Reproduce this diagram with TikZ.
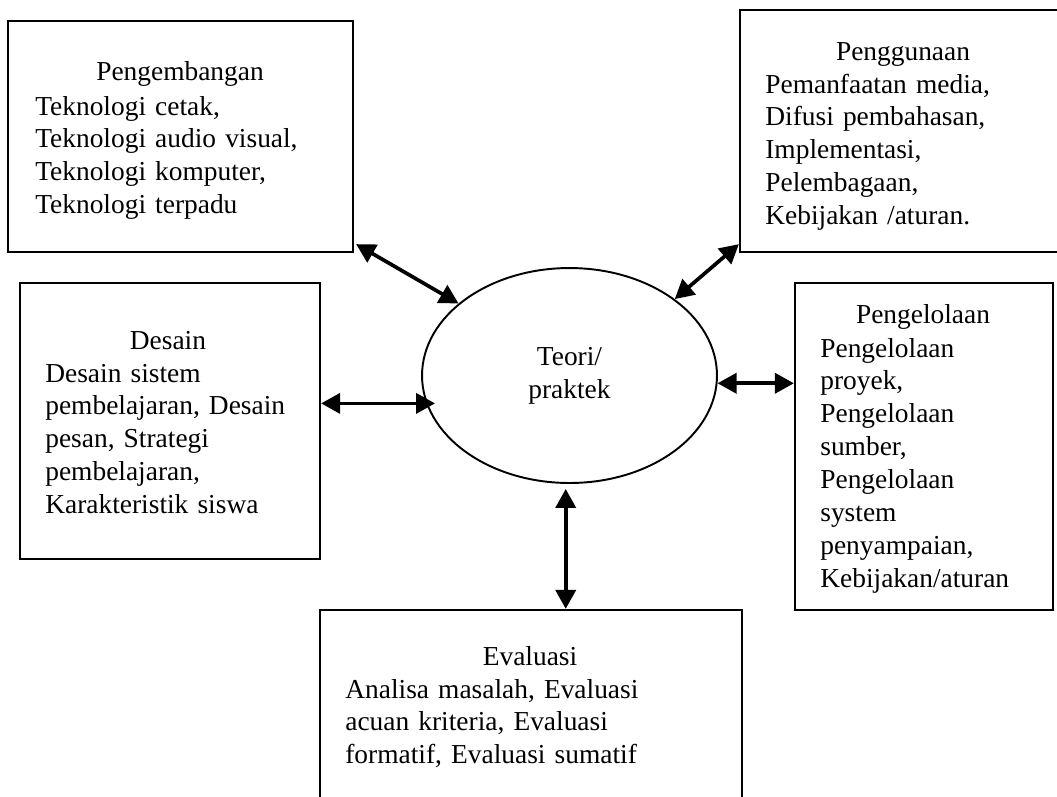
\documentclass[tikz,border=0pt]{standalone}
\usepackage{fontspec}
\setmainfont{Liberation Serif}
\usetikzlibrary{shapes.geometric,arrows.meta,calc}

\begin{document}
\begin{tikzpicture}[x=0.02cm, y=-0.02cm,
    kotak/.style={draw, line width=1.3pt, inner sep=0pt},
    judul/.style={anchor=base, inner sep=0pt, font=\fontsize{15.6pt}{18.7pt}\selectfont},
    isi/.style={anchor=base west, align=left, inner sep=0pt, font=\fontsize{15.6pt}{18.7pt}\selectfont},
    panah/.style={{Triangle[length=0.38cm,width=0.4cm]}-{Triangle[length=0.38cm,width=0.4cm]}, line width=2.1pt}]
    \useasboundingbox (0,0) rectangle (1057,796);

    % Teori/praktek in the middle
    \node[draw, ellipse, line width=1.1pt, minimum width=5.9cm, minimum height=4.3cm, inner sep=0pt,
          align=center, font=\fontsize{15.6pt}{18.7pt}\selectfont] (teori) at (569.5,375.5) {Teori/\\praktek};

    % Pengembangan box
    \node[kotak, minimum width=6.9cm, minimum height=4.62cm] (pengembangan) at (180.5,136.5) {};
    \node[judul] (pengembangan-judul) at (180,80) {Pengembangan};
    \node[isi, text width=6cm] (pengembangan-isi) at (35,115)
        {Teknologi cetak,\\Teknologi audio visual,\\Teknologi komputer,\\Teknologi terpadu};

    % Penggunaan box (cut at the right edge)
    \node[kotak, minimum width=6.6cm, minimum height=4.84cm] (penggunaan) at (905,131) {};
    \node[judul] (penggunaan-judul) at (903,60) {Penggunaan};
    \node[isi, text width=5.5cm] (penggunaan-isi) at (765,93)
        {Pemanfaatan media,\\Difusi pembahasan,\\Implementasi,\\Pelembagaan,\\Kebijakan /aturan.};

    % Desain box
    \node[kotak, minimum width=6cm, minimum height=5.52cm] (desain) at (170,421) {};
    \node[judul] (desain-judul) at (168,349) {Desain};
    \node[isi, text width=5.2cm] (desain-isi) at (45,382)
        {Desain sistem\\pembelajaran, Desain\\pesan, Strategi\\pembelajaran,\\Karakteristik siswa};

    % Pengelolaan box
    \node[kotak, minimum width=5.16cm, minimum height=6.54cm] (pengelolaan) at (924,446.5) {};
    \node[judul] (pengelolaan-judul) at (923,323) {Pengelolaan};
    \node[isi, text width=4.5cm] (pengelolaan-isi) at (820,357)
        {Pengelolaan\\proyek,\\Pengelolaan\\sumber,\\Pengelolaan\\system\\penyampaian,\\Kebijakan/aturan};

    % Evaluasi box (cut at the bottom edge)
    \node[kotak, minimum width=8.44cm, minimum height=4.2cm] (evaluasi) at (531,715) {};
    \node[judul] (evaluasi-judul) at (530,665) {Evaluasi};
    \node[isi, text width=7.5cm] (evaluasi-isi) at (345,698)
        {Analisa masalah, Evaluasi\\acuan kriteria, Evaluasi\\formatif, Evaluasi sumatif};

    % arrows to the middle
    \draw[panah] ($(pengembangan.south east)+(2,-9)$) -- (teori.147);
    \draw[panah] ($(penggunaan.south west)+(0,-9)$) -- (teori.36);
    \draw[panah, shorten >=-0.18cm] (desain.east |- teori.191) -- (teori.191);
    \draw[panah] (teori.357) -- (teori.357 -| pengelolaan.west);
    \draw[panah, shorten <=0.1cm] (teori.268) -- (teori.268 |- evaluasi.north);

\end{tikzpicture}
\end{document}
